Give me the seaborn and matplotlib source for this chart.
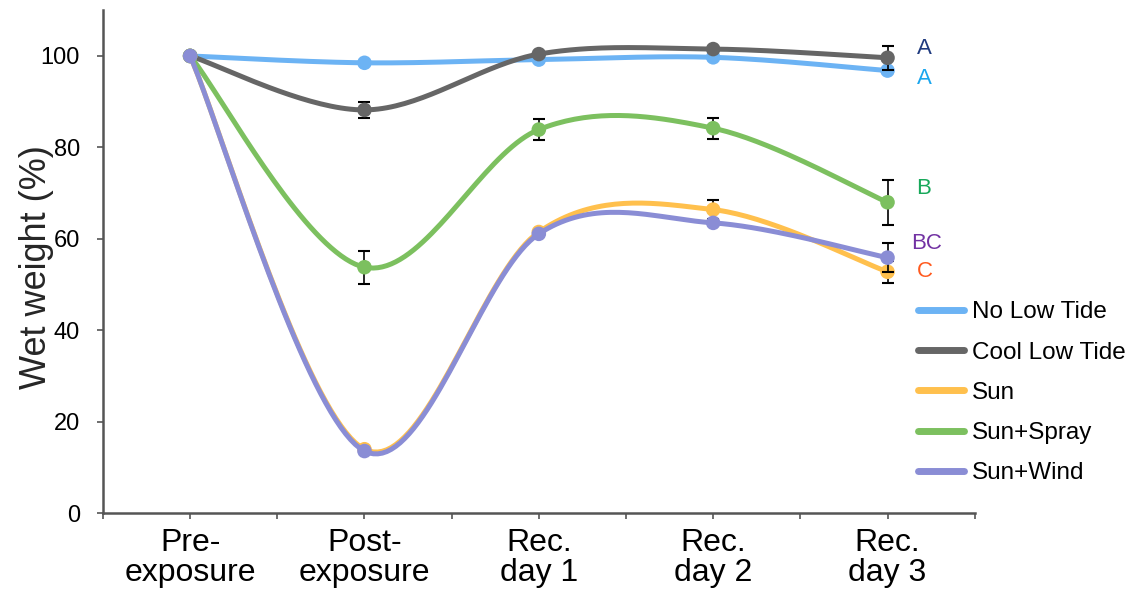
import numpy as np
import pandas as pd
import matplotlib
matplotlib.use("Agg")
import matplotlib.pyplot as plt
from matplotlib.lines import Line2D
import seaborn as sns

# Data
stages = ["Pre-\nexposure", "Post-\nexposure", "Rec.\nday 1", "Rec.\nday 2", "Rec.\nday 3"]
treatments = ["No Low Tide", "Cool Low Tide", "Sun", "Sun+Spray", "Sun+Wind"]

no_low_tide = [100, 98.5, 99.2, 99.7, 96.8]
cool_low_tide = [100, 88.2, 100.4, 101.5, 99.6]
sun = [100, 14.0, 61.5, 66.4, 52.8]
sun_spray = [100, 53.8, 83.9, 84.2, 68.0]
sun_wind = [100, 13.6, 61.1, 63.5, 55.9]

err_no_low_tide = [0, 0, 0, 0, 0]
err_cool_low_tide = [0, 1.8, 0.5, 0.5, 2.6]
err_sun = [0, 0, 0, 2.0, 2.4]
err_sun_spray = [0, 3.6, 2.3, 2.3, 4.9]
err_sun_wind = [0, 0, 0, 0, 3.1]

letters = ["A", "A", "C", "B", "BC"]

colors = ["#6cb3f4", "#666666", "#ffc04d", "#7cc05f", "#8a8dd5"]
letter_colors = ["#1aa6ee", "#1f3a7f", "#ff5a1f", "#17a85a", "#7232a3"]
letter_offsets = [(29, -8), (29, 9), (29, 0), (29, 14), (24, 14)]

values = [no_low_tide, cool_low_tide, sun, sun_spray, sun_wind]
errors = [err_no_low_tide, err_cool_low_tide, err_sun, err_sun_spray, err_sun_wind]

points = pd.DataFrame({
    "treatment": np.repeat(treatments, len(stages)),
    "stage": np.tile(np.arange(len(stages)), len(treatments)),
    "weight": np.concatenate(values),
    "err": np.concatenate(errors),
})


def smooth(xs, ys, n=40):
    # Bezier smoothing through the points, like a spreadsheet "smoothed line"
    p = np.column_stack([xs, ys]).astype(float)
    pad = np.vstack([p[0], p, p[-1]])
    t = np.linspace(0, 1, n)[:, None]
    out = []
    for i in range(len(p) - 1):
        p0, p1, p2, p3 = pad[i], pad[i + 1], pad[i + 2], pad[i + 3]
        c1 = p1 + (p2 - p0) / 6
        c2 = p2 - (p3 - p1) / 6
        seg = (1 - t) ** 3 * p1 + 3 * (1 - t) ** 2 * t * c1 + 3 * (1 - t) * t ** 2 * c2 + t ** 3 * p2
        out.append(seg if i == 0 else seg[1:])
    return np.vstack(out)


curves = []
for name in treatments:
    sub = points[points["treatment"] == name]
    xy = smooth(sub["stage"].values, sub["weight"].values)
    curves.append(pd.DataFrame({"treatment": name, "x": xy[:, 0], "y": xy[:, 1]}))
curves = pd.concat(curves, ignore_index=True)

sns.set_theme(style="ticks")
plt.rcParams["font.family"] = ["Liberation Sans", "DejaVu Sans"]
plt.rcParams["text.color"] = "black"
plt.rcParams["xtick.labelcolor"] = "black"
plt.rcParams["ytick.labelcolor"] = "black"

fig = plt.figure(figsize=(11.44, 6.01), dpi=100)
ax = fig.add_axes([0.09, 0.146, 0.762, 0.837])

for i, name in enumerate(treatments):
    sub = points[points["treatment"] == name]
    has_err = sub["err"] > 0
    if has_err.any():
        ax.errorbar(sub["stage"][has_err], sub["weight"][has_err], yerr=sub["err"][has_err],
                    fmt="none", ecolor="black", elinewidth=1.2, capsize=4, capthick=1.5,
                    zorder=2 + i * 3)
    sns.lineplot(data=curves[curves["treatment"] == name], x="x", y="y", sort=False,
                 estimator=None, color=colors[i], lw=3.6, ax=ax, legend=False,
                 zorder=3 + i * 3)
    sns.scatterplot(data=sub, x="stage", y="weight", color=colors[i], s=110,
                    edgecolor="none", ax=ax, legend=False, zorder=4 + i * 3)

# significance letters at the last time point
for i, name in enumerate(treatments):
    ax.annotate(letters[i], xy=(len(stages) - 1, values[i][-1]),
                xytext=letter_offsets[i], textcoords="offset pixels",
                color=letter_colors[i], fontsize=16, va="center", ha="left",
                annotation_clip=False)

ax.set_xlim(-0.5, len(stages) - 0.5)
ax.set_ylim(0, 110)
ax.set_xticks(range(len(stages)))
ax.set_xticklabels(stages, fontsize=23, linespacing=1.0)
ax.set_xticks(np.arange(-0.5, len(stages), 1), minor=True)
ax.set_yticks([0, 20, 40, 60, 80, 100])
ax.tick_params(axis="y", labelsize=17, length=4.5, width=1.2, color="#555555", pad=12)
ax.tick_params(axis="x", which="both", length=4.5, width=1.2, color="#555555", pad=6)
ax.set_xlabel("")
ax.set_ylabel("Wet weight (%)", fontsize=26)
ax.yaxis.set_label_coords(-0.056, 0.49)

sns.despine(ax=ax)
for side in ["left", "bottom"]:
    ax.spines[side].set_color("#555555")
    ax.spines[side].set_linewidth(1.8)

handles = [Line2D([0], [0], color=c, lw=5) for c in colors]
fig.legend(handles, treatments, loc="upper left", bbox_to_anchor=(0.783, 0.535),
           frameon=False, fontsize=17.5, handlelength=1.9, handletextpad=0.35,
           labelspacing=0.75)

fig.savefig("out.png", dpi=100)
